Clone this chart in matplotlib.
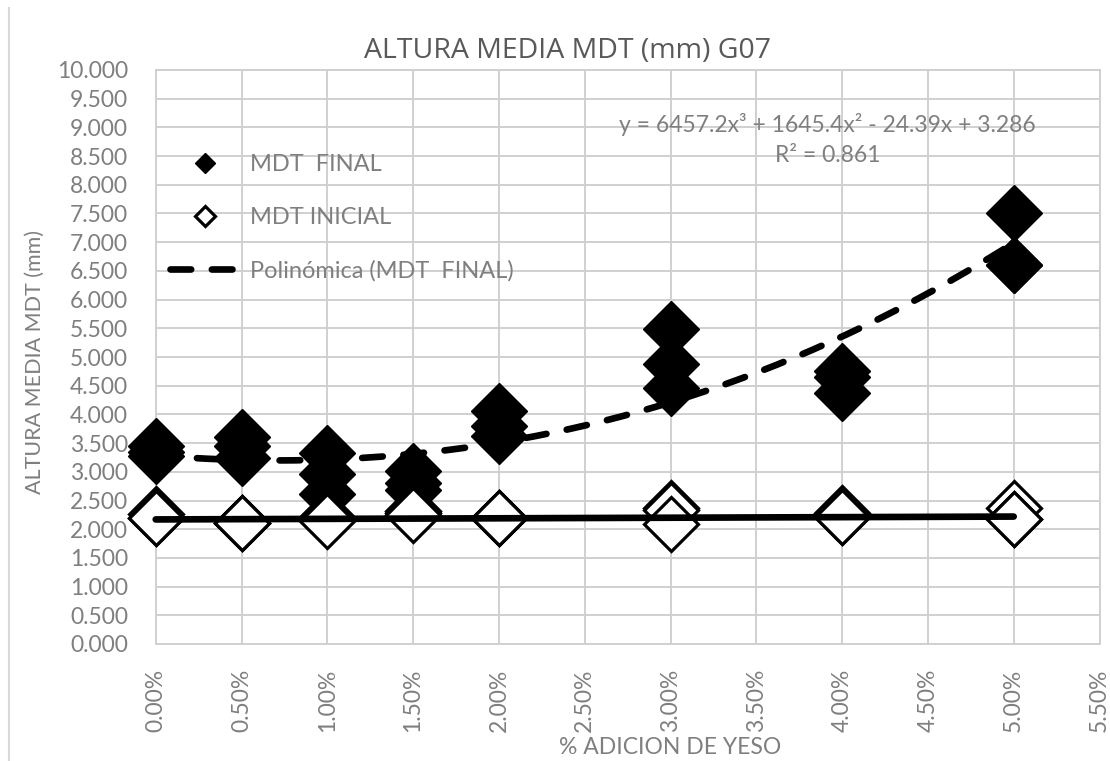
import numpy as np
import matplotlib.pyplot as plt
from matplotlib.lines import Line2D
from matplotlib.ticker import FuncFormatter, MultipleLocator

plt.rcParams['font.family'] = ['Lato', 'DejaVu Sans']

# datos (fraccion de yeso, 3 repeticiones por dosis)
dosis = [0.0, 0.005, 0.01, 0.015, 0.02, 0.03, 0.04, 0.05]
mdt_final = [
    [3.45, 3.35, 3.27],
    [3.61, 3.45, 3.24],
    [3.33, 2.97, 2.62],
    [3.02, 2.80, 2.68],
    [4.06, 3.80, 3.63],
    [5.48, 4.88, 4.46],
    [4.76, 4.65, 4.37],
    [7.51, 6.61, 6.61],
]
mdt_inicial = [
    [2.27, 2.20, 2.19],
    [2.10, 2.10, 2.10],
    [2.22, 2.19, 2.15],
    [2.32, 2.28, 2.25],
    [2.19, 2.19, 2.19],
    [2.37, 2.33, 2.09],
    [2.29, 2.21, 2.21],
    [2.37, 2.18, 2.18],
]
# linea de tendencia de MDT INICIAL (extremos)
tend_ini_x = [0.0, 0.05]
tend_ini_y = [2.17, 2.22]
# polinomica de MDT FINAL (coeficientes de la ecuacion mostrada)
coef_pol = [6457.2, 1645.4, -24.39, 3.286]

xs = np.repeat(dosis, 3)
y_fin = np.ravel(mdt_final)
y_ini = np.ravel(mdt_inicial)

W, H = 1110, 761
fig = plt.figure(figsize=(W / 100, H / 100), dpi=100)
ax = fig.add_axes([155.7 / W, 1 - 644 / H, (1099.5 - 155.7) / W, (644 - 70) / H])

gris = '#7f7f7f'

ax.plot(xs, y_fin, 'D', ms=29, mfc='black', mec='black', mew=1, ls='none',
        label='MDT  FINAL', zorder=3, clip_on=False)
ax.plot(xs, y_ini, 'D', ms=28, mfc='white', mec='black', mew=2.3, ls='none',
        label='MDT INICIAL', zorder=4, clip_on=False)

xp = np.linspace(0, 0.05, 200)
ax.plot(xp, np.polyval(coef_pol, xp), color='black', lw=4.8, ls=(0, (3.1, 3.1)),
        dash_capstyle='round', label='Polinómica (MDT  FINAL)', zorder=5, clip_on=False)
ax.plot(tend_ini_x, tend_ini_y, color='black', lw=4.8, solid_capstyle='round',
        zorder=5, clip_on=False)

ax.set_xlim(0, 0.055)
ax.set_ylim(0, 10)
ax.xaxis.set_major_locator(MultipleLocator(0.005))
ax.yaxis.set_major_locator(MultipleLocator(0.5))
ax.xaxis.set_major_formatter(FuncFormatter(lambda v, p: f'{v * 100:.2f}%'))
ax.yaxis.set_major_formatter(FuncFormatter(lambda v, p: f'{v:.3f}'))
ax.grid(True, color='#d0d0d0', lw=1.4)
ax.set_axisbelow(True)
for s in ax.spines.values():
    s.set_color('#d0d0d0')
    s.set_linewidth(1.4)
ax.tick_params(axis='both', length=0, colors=gris, labelsize=16.5)
ax.tick_params(axis='y', pad=20)
ax.tick_params(axis='x', pad=18, labelrotation=90)

leg = ax.legend(loc='upper left', bbox_to_anchor=(170 / W, 1 - 154 / H),
                bbox_transform=fig.transFigure, frameon=False, fontsize=17,
                labelcolor=gris, markerscale=0.36, borderpad=0, borderaxespad=0,
                handlelength=2.95, handletextpad=0.45, labelspacing=1.35)

fig.text(568 / W, 1 - 51 / H, 'ALTURA MEDIA MDT (mm) G07', ha='center', va='center',
         fontsize=20.5, color='#595959', family=['Open Sans', 'DejaVu Sans'])
fig.text(35 / W, 1 - 362 / H, 'ALTURA MEDIA MDT (mm)', rotation=90, ha='center',
         va='center', fontsize=15.5, color=gris)
fig.text(670 / W, 1 - 748 / H, '% ADICION DE YESO', ha='center', va='center',
         fontsize=16.5, color=gris)
fig.text(827 / W, 1 - 125 / H, 'y = 6457.2x³ + 1645.4x² - 24.39x + 3.286',
         ha='center', va='center', fontsize=16.5, color=gris)
fig.text(828 / W, 1 - 156 / H, 'R² = 0.861', ha='center', va='center',
         fontsize=16.5, color=gris)

# borde izquierdo del area del grafico
fig.add_artist(Line2D([9 / W, 9 / W], [0, 1 - 8 / H], color='#d9d9d9', lw=1.5))

fig.savefig('out.png', dpi=100)
